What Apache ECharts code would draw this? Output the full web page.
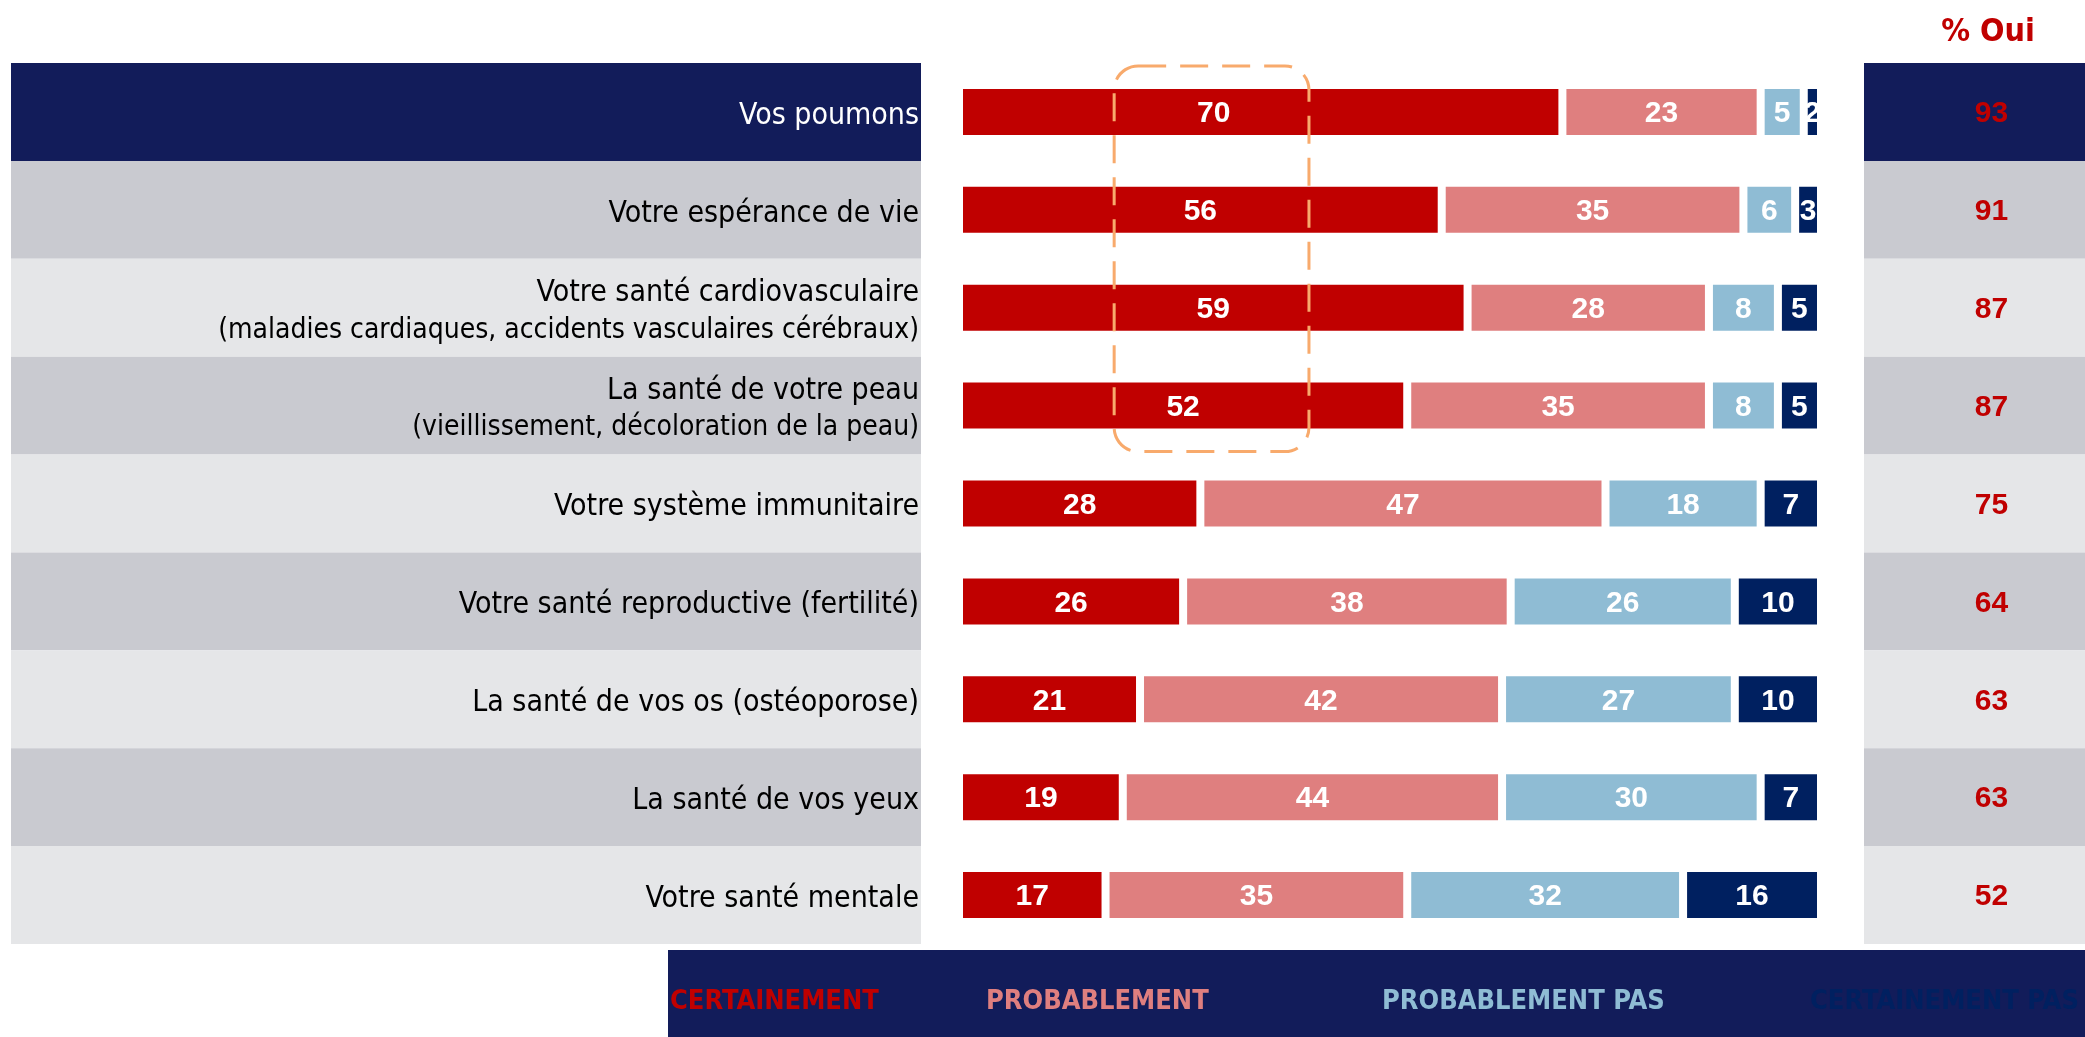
<!DOCTYPE html>
<html>
<head>
<meta charset="utf-8">
<script src="https://cdn.jsdelivr.net/npm/echarts@6/dist/echarts.min.js"></script>
<style>
  html, body { margin: 0; padding: 0; background: #fff; }
  #chart { width: 2085px; height: 1037px; }
</style>
</head>
<body>
<div id="chart"></div>
<script>
  // catégories (de haut en bas)
  const categories = [
    'Vos poumons',
    'Votre espérance de vie',
    'Votre santé cardiovasculaire\n(maladies cardiaques, accidents vasculaires cérébraux)',
    'La santé de votre peau\n(vieillissement, décoloration de la peau)',
    'Votre système immunitaire',
    'Votre santé reproductive (fertilité)',
    'La santé de vos os (ostéoporose)',
    'La santé de vos yeux',
    'Votre santé mentale'
  ];
  const certainement = [70, 56, 59, 52, 28, 26, 21, 19, 17];
  const probablement = [23, 35, 28, 35, 47, 38, 42, 44, 35];
  const probablementPas = [5, 6, 8, 8, 18, 26, 27, 30, 32];
  const certainementPas = [2, 3, 5, 5, 7, 10, 10, 7, 16];
  const ouiTotal = [93, 91, 87, 87, 75, 64, 63, 63, 52];
  const legendLabels = ['CERTAINEMENT', 'PROBABLEMENT', 'PROBABLEMENT PAS', 'CERTAINEMENT PAS'];
  const headerLabel = '% Oui';

  const NAVY = '#121c5a';
  const DARK_GREY = '#c9cad0';
  const LIGHT_GREY = '#e5e6e8';
  const segColors = ['#c00000', '#df7f7f', '#8fbcd4', '#002060'];
  const narrow = '"Liberation Sans Narrow", "DejaVu Sans Condensed", "Roboto", sans-serif';
  const bold = '"Liberation Sans", Arial, sans-serif';

  const rowColor = (i) => (i === 0 ? NAVY : (i % 2 === 1 ? DARK_GREY : LIGHT_GREY));
  const ones = categories.map(() => 1); // bandes de fond

  const chart = echarts.init(document.getElementById('chart'));

  const gridTop = 63;
  const gridHeight = 881;

  const segSeries = [certainement, probablement, probablementPas, certainementPas].map((data, k) => ({
    name: legendLabels[k],
    type: 'bar',
    stack: 'total',
    xAxisIndex: 1,
    yAxisIndex: 1,
    barWidth: 54,
    itemStyle: {
      color: segColors[k],
      borderColor: '#fff',
      borderWidth: 4
    },
    label: {
      show: true,
      position: 'inside',
      offset: [0, 2],
      color: '#fff',
      fontFamily: bold,
      fontWeight: 'bold',
      fontSize: 30
    },
    silent: true,
    // le 70 de la 1re ligne est décalé à gauche dans l'original
    data: data.map((v, i) => (k === 0 && i === 0 ? { value: v, label: { offset: [-47, 2] } } : v))
  }));

  // une légende par entrée, pour reproduire l'espacement irrégulier
  const legendLeft = [659, 975, 1371, 1799];
  const legends = legendLabels.map((name, k) => ({
    left: legendLeft[k],
    top: 983,
    z: 10,
    selectedMode: false,
    itemWidth: 0,
    itemHeight: 0,
    icon: 'rect',
    data: [name],
    textStyle: {
      color: segColors[k],
      fontFamily: narrow,
      fontWeight: 'bold',
      fontSize: 27
    }
  }));

  let option = {
    animation: false,
    title: {
      text: headerLabel,
      left: 1983,
      top: 12,
      textAlign: 'center',
      textStyle: {
        color: '#c00000',
        fontFamily: narrow,
        fontWeight: 'bold',
        fontSize: 32
      }
    },
    grid: [
      { left: 11, top: gridTop, width: 910, height: gridHeight },
      { left: 959, top: gridTop, width: 862, height: gridHeight },
      { left: 1864, top: gridTop, width: 221, height: gridHeight }
    ],
    xAxis: [
      { gridIndex: 0, type: 'value', min: 0, max: 1, show: false },
      { gridIndex: 1, type: 'value', min: 0, max: 100, show: false },
      { gridIndex: 2, type: 'value', min: 0, max: 1, show: false }
    ],
    yAxis: [0, 1, 2].map((g) => ({
      gridIndex: g,
      type: 'category',
      data: categories,
      inverse: true,
      show: false
    })),
    legend: legends,
    graphic: [
      {
        id: 'legendBg',
        type: 'rect',
        z: 0,
        shape: { x: 668, y: 950, width: 1417, height: 87 },
        style: { fill: NAVY }
      }
    ],
    series: [
      {
        name: 'bandes',
        type: 'bar',
        xAxisIndex: 0,
        yAxisIndex: 0,
        barWidth: '100%',
        silent: true,
        itemStyle: { color: (p) => rowColor(p.dataIndex) },
        label: {
          show: true,
          position: 'insideRight',
          distance: 2,
          offset: [0, 4],
          align: 'right',
          fontFamily: narrow,
          fontSize: 30,
          lineHeight: 37,
          formatter: (p) => {
            const parts = categories[p.dataIndex].split('\n');
            return parts.length > 1 ? parts[0] + '\n{sub|' + parts[1] + '}' : parts[0];
          },
          rich: {
            sub: { fontFamily: narrow, fontSize: 28, lineHeight: 37 }
          },
          color: '#000'
        },
        data: ones.map((v, i) => ({
          value: v,
          label: i === 0 ? { color: '#fff' } : {}
        }))
      },
      ...segSeries,
      {
        name: 'oui',
        type: 'bar',
        xAxisIndex: 2,
        yAxisIndex: 2,
        barWidth: '100%',
        silent: true,
        itemStyle: { color: (p) => rowColor(p.dataIndex) },
        label: {
          show: true,
          position: 'inside',
          offset: [17, 2],
          color: '#c00000',
          fontFamily: bold,
          fontWeight: 'bold',
          fontSize: 30,
          formatter: (p) => ouiTotal[p.dataIndex]
        },
        data: ones
      }
    ]
  };

  chart.setOption(option);

  // cadre pointillé autour des premières valeurs "Certainement"
  const topLeft = chart.convertToPixel({ gridIndex: 1 }, [18, 0]);
  const botRight = chart.convertToPixel({ gridIndex: 1 }, [40.6, 3]);
  const pad = 46;
  chart.setOption({
    graphic: [
      {
        id: 'focusBox',
        type: 'rect',
        z: 20,
        shape: {
          x: topLeft[0],
          y: topLeft[1] - pad,
          width: botRight[0] - topLeft[0],
          height: botRight[1] - topLeft[1] + 2 * pad,
          r: 24
        },
        style: {
          fill: 'none',
          stroke: '#f8aa6c',
          lineWidth: 3,
          lineDash: [28, 14]
        }
      }
    ]
  });
</script>
</body>
</html>
